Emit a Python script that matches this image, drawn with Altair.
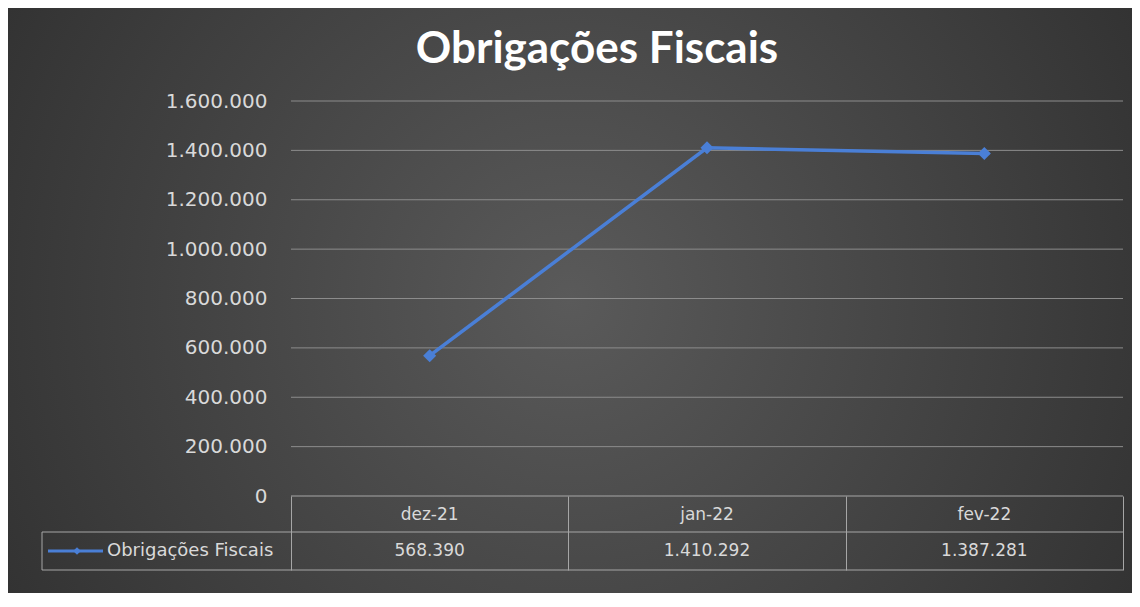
import altair as alt
import pandas as pd

# ---- data ----
categorias = ["dez-21", "jan-22", "fev-22"]
valores = [568390, 1410292, 1387281]
serie = "Obrigações Fiscais"
titulo = "Obrigações Fiscais"
y_ticks = [0, 200000, 400000, 600000, 800000, 1000000, 1200000, 1400000, 1600000]

# ---- layout constants ----
W, H = 832, 395
PL, PT, PR, PB = 283, 93, 9, 97
BLUE = "#4a7fd6"
TXT = "#d9d9d9"
LINE = "#a6a6a6"
FONT = "DejaVu Sans"

df = pd.DataFrame({"categoria": categorias, "valor": valores, "serie": [serie] * len(categorias)})
grid_df = pd.DataFrame({"v": y_ticks[1:]})
one = pd.DataFrame({"k": [0]})

xs = alt.Scale(type="band", domain=categorias, paddingInner=0, paddingOuter=0)
ys = alt.Scale(domain=[0, 1600000], nice=False)

bg = alt.Chart(one).mark_rect(
    fill=alt.Gradient(
        gradient="radial",
        stops=[alt.GradientStop(color="#5a5a5a", offset=0), alt.GradientStop(color="#262626", offset=1)],
        x1=0.5, y1=0.5, r1=0, x2=0.5, y2=0.5, r2=0.75,
    ),
    strokeWidth=0,
).encode(x=alt.value(-PL), x2=alt.value(W + PR), y=alt.value(-PT), y2=alt.value(H + PB))

grid = alt.Chart(grid_df).mark_rule(color="#8c8c8c", strokeWidth=1).encode(
    y=alt.Y("v:Q", scale=ys), x=alt.value(0), x2=alt.value(W))

base = alt.Chart(df)

axes = base.mark_point(opacity=0).encode(
    x=alt.X("categoria:N", scale=xs, sort=categorias, bandPosition=0.5,
            axis=alt.Axis(title=None, labels=False, domain=False, grid=False, ticks=True, zindex=1,
                          tickBand="extent", tickSize=74, tickColor=LINE, tickWidth=1)),
    y=alt.Y("valor:Q", scale=ys,
            axis=alt.Axis(title=None, values=y_ticks, labelExpr="format(datum.value, ',.0f')",
                          domain=False, ticks=False, zindex=1,
                          labelPadding=24, labelFontSize=20, labelFont=FONT, labelColor=TXT,
                          grid=False)),
)

# table lines
hl = alt.Chart(one).mark_rule(color=LINE, strokeWidth=1)
h0 = hl.encode(x=alt.value(0), x2=alt.value(W), y=alt.value(H))
h1 = hl.encode(x=alt.value(-249), x2=alt.value(W), y=alt.value(H + 36))
h2 = hl.encode(x=alt.value(-249), x2=alt.value(W), y=alt.value(H + 74))
v0 = hl.encode(x=alt.value(-249), y=alt.value(H + 36), y2=alt.value(H + 74))

headers = base.mark_text(font=FONT, fontSize=17, color=TXT, baseline="middle").encode(
    x=alt.X("categoria:N", scale=xs, sort=categorias, bandPosition=0.5),
    y=alt.value(H + 19),
    text="categoria:N",
)
vals = base.mark_text(font=FONT, fontSize=17, color=TXT, baseline="middle").encode(
    x=alt.X("categoria:N", scale=xs, sort=categorias, bandPosition=0.5),
    y=alt.value(H + 55),
    text=alt.Text("valor:Q", format=",.0f"),
)

leg_line = alt.Chart(one).mark_rule(color=BLUE, strokeWidth=3).encode(
    x=alt.value(-243), x2=alt.value(-188), y=alt.value(H + 55))
leg_pt = alt.Chart(one).mark_point(shape="diamond", filled=True, color=BLUE, size=60, opacity=1).encode(
    x=alt.value(-214), y=alt.value(H + 55))
leg_txt = alt.Chart(one).mark_text(text=serie, font=FONT, fontSize=18, color=TXT, align="left",
                                   baseline="middle").encode(x=alt.value(-184), y=alt.value(H + 55))

line = base.mark_line(color=BLUE, strokeWidth=3.5,
                      point=alt.OverlayMarkDef(shape="diamond", size=170, filled=True, color=BLUE, opacity=1)).encode(
    x=alt.X("categoria:N", scale=xs, sort=categorias, bandPosition=0.5),
    y=alt.Y("valor:Q", scale=ys),
)

title = alt.Chart(one).mark_text(text=titulo, font="Lato", fontSize=44, fontWeight="bold", color="white",
                                 align="center", baseline="alphabetic").encode(
    x=alt.value(306), y=alt.value(-38))

chart = alt.layer(bg, grid, axes, h0, h1, h2, v0, headers, vals, leg_line, leg_pt, leg_txt, line, title).properties(
    width=W, height=H,
    autosize=alt.AutoSizeParams(type="none"),
    padding={"left": PL, "top": PT, "right": PR, "bottom": PB},
    background="white",
).configure_view(stroke=None).configure(
    locale=alt.Locale(number=alt.NumberLocale(decimal=",", thousands=".", grouping=[3], currency=["R$", ""]))
)

chart.save("out.html", embed_options={"renderer": "svg", "actions": False})
